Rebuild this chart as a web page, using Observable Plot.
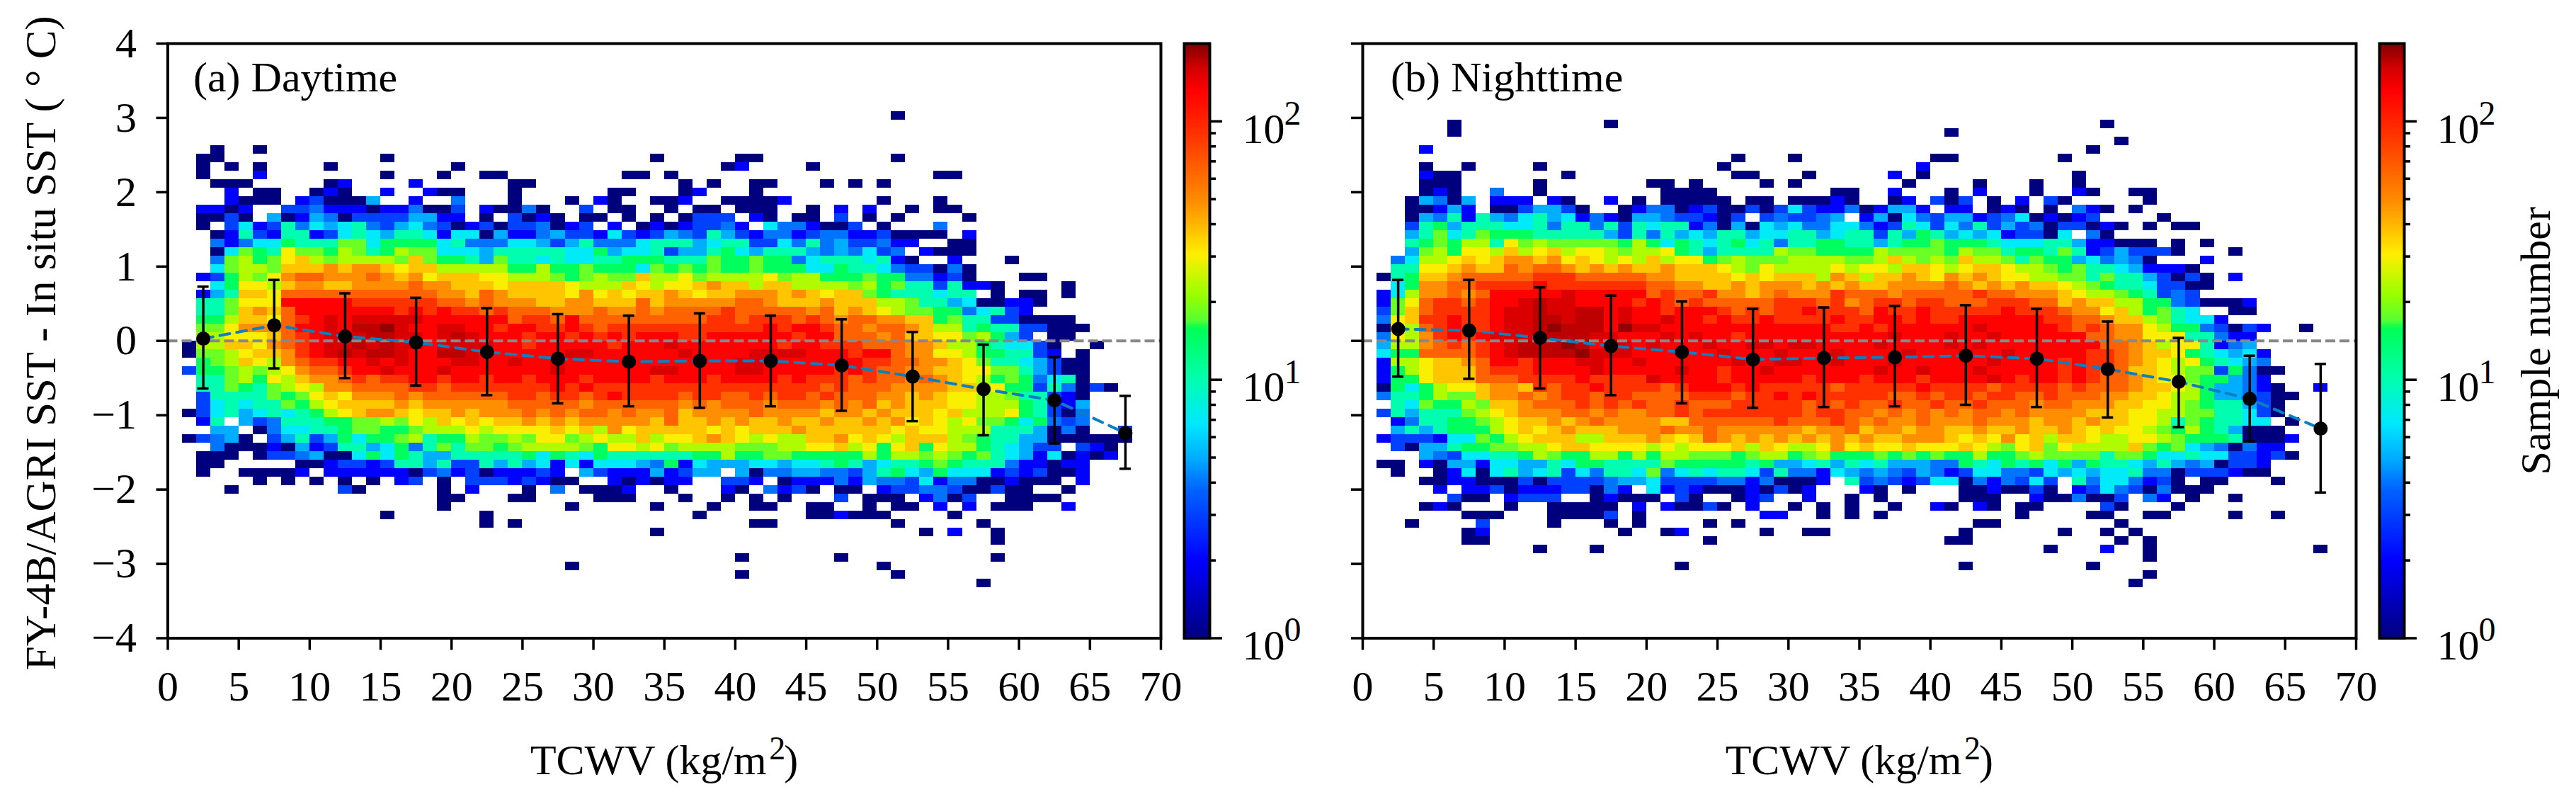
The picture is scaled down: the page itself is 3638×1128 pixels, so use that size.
<!DOCTYPE html>
<html>
<head>
<meta charset="utf-8">
<script src="https://cdn.jsdelivr.net/npm/d3@7"></script>
<script src="https://cdn.jsdelivr.net/npm/@observablehq/plot@0.6"></script>
<style>
html,body{margin:0;padding:0;background:#fff;}
#chart{position:relative;width:3638px;height:1128px;overflow:hidden;background:#fff;}
#chart svg{position:absolute;top:0;max-width:none;}
</style>
</head>
<body>
<div id="chart"></div>
<script>
// sample-count classes
const levelKeys = "abcdefghijklmnopqrs";
const levelCounts = [1,2,3,4,5,7,10,15,18,23,30,37,48,65,90,130,155,170,190];

// row (from the top, bins of 8/70 K) | column:classes (bins of 1 kg/m2)
const dayRows = [
"8|51:a",
"12|3:a 6:a",
"13|2:aa 15:a 34:a 40:aa 51:a",
"14|2:a 4:a 6:a 11:a 20:a 39:ab 45:a",
"15|2:a 6:b 15:a 19:a 22:aa 32:aa 35:a 54:aa",
"16|3:aaa 11:ab 17:b 24:aa 36:a 38:a 41:aa 46:a 48:a 50:a",
"17|4:b 6:aa 10:aba 15:b 18:baa 24:a 31:aa 36:ab 41:a",
"18|4:baaa 9:bcaaae 17:b 20:d 24:a 28:a 30:ba 34:aab 39:aaaab 50:a 54:a",
"19|2:bbab 8:ccdbbbabb 17:daa 20:c 22:baa 25:da 29:c 31:aa 35:a 37:aa 40:aaa 45:a 47:b 49:b 52:a 54:aa",
"20|2:aaca 7:eabedaccccee 19:bb 22:a 24:caba 29:aa 32:a 34:a 36:accc 41:ba 44:aa 47:c 49:a 51:a 56:a",
"21|2:a 4:cfbcg dfefg dcefd cabca ccdab c 31:b 33:ababccdb 42:fddbaac 50:a 54:d",
"22|3:abgcb ggbcf gfegg fbffa ebbde ccbfc bcedc gecbd dbcdd bbcaa aa 56:b",
"23|3:dbdff hgggi ifhhh hfgdd dffec egddd fggge fggcc fdgde ccdbb 55:aa",
"24|3:afihg kiihj ighji ifffe ggggg ffhef fgcee ghfeg ggede dfcd 53:baaa",
"25|3:dijhi kljij jjjil ihhge iggfg ffggh hhggg ihhih hdfgg gfgba 55:b 59:a",
"26|3:fijji lllml mmlkl ljjjj jhhjh hihhh fihih ihhih hhffh ggfdc cada",
"27|2:bchji kmnnm mmnml mklll kkjjj ihiji iljjk ijjjj kijjh hhihh ddbca 60:aa",
"28|3:fhkkj lmmll mmmmn mmlll kllll kjjjl kjkkl mlljl ljjjj ijhig gcgbb a 63:a",
"29|2:begll knnnn nnnnn nnmml nmlll lkmkl kllml kllmm mlmlk llihg ggfgg 58:a 60:aa 63:a",
"30|2:ggikk kpppp poooo oonnm nmmml lmmll lnlmm mmmnn mlllm llljj iggef aabba",
"31|2:ggilm lnppp ppppo popoo nonnn mmmnm mnmnn nnonn nnnmn lmlkj iihhd fgcb",
"32|2:hhjll knopq pqqqq qpppp ppnoo npnnn nnnnn noono oonon mnnmm llhig gccaa aa",
"33|2:iikmm mnppq prrsq ppqqp popp o opono ooooo ooooo popp o nnmnn mljjg hggcc aaa",
"34|2:jjkkk lnopq qqrrq qpqrq pppop popop oppp o oppp p ppopp nnnmn llkki jhec 62:aa",
"35|1:ajjll kmnop qqrqr qqpqq qqppo ppppp oppp q ppppp ppopp ooonn nmmlj jhgff ca 65:a",
"36|1:aiijk llmop qrqrr qpprr qpppp ppqqp ppppp qpppp qqqqp ppopp nmmkk jhhgg cb 64:a",
"37|2:hijlk jmnoo ppqpq pppqq ppqpp qpppp ppppp ppp qq ppppp ppoon nmmlk iggfe caa",
"38|1:chhij ijkmn nopp q pppqp ppppp pqppp ppp qq ppppq qpppp popon nmmll kkiig ecaa",
"39|2:ggijh kjlmm nonoo ppopp oppop ppopp ppopp poppp popoo onon n mnmlk jhihd fga",
"40|2:ggihg ijkjm mnnnn oonoo ooooo popoo ooooo ooooo oooon onnnm mmmll jkhhc gdac 66:a",
"41|2:cgggg ihikl kmmmn mnnnn nnoon oonop oooon oonno noono nnnmm lmlkk jjigg cba",
"42|2:cfgfg gihjk llllm lmmmm mmnnn nnmnn nnnnm nmnnn mnnnm nmnlm lllkk jjjhg cbe",
"43|1:acfge fgfgh jklmm lkllm lmmmn mnmnn mnmmn lmmmm nmmmm lmmlm lllkl jjjkh gcad",
"44|2:bg 5:ecdgg ghhii jikjl klkll mlmlm mmmml nllml mllml lmllm lmklk jkiih fhdcd",
"45|3:ee 6:adffg ghiih hijjj kjkkk klklj mklll llklk lllml lllll klkkj jjggg eada 67:c",
"46|1:acdea 7:cegce hfhhi jghhj iijik kijkj jljkk lmlkj kjjll mklkj lllji hggee aaaaaa",
"47|3:daaab aebcg gefhd gigii hijjj jihkk jkijj jjiii jjkkl jkhkl hkjjh gfecc 64:cba",
"48|2:aaa 6:accde aafhf hgeeg ggggh fhgfh ggggg ghhjh hiihh hhhjh jjiji higfe bfaba b",
"49|2:aa 9:aabcc bcgge gccge gefbf bfffe dhbfe eeffe ffghg efggh ihggg dbbab b",
"50|2:a 5:aaaab 11:bbbbb bacdb cabbb cb 29:ecbbb ebcee 40:eadde eddce ghfeh fffbc bcaab",
"51|6:a 8:a 10:a 12:a 14:a 16:bc 19:a 21:cccbcbaa 31:bababb 39:ccb 43:abbbd beddc fbdda abaaa 64:b",
"52|4:a 12:ca 19:a 21:b 25:a 27:d 29:aaab 35:a 39:ba 42:dbca 47:aa 50:bccdd caaca a 63:a",
"53|19:aa 24:aa 30:aaa 36:a 39:a 41:a 43:a 47:c 49:aaa 53:bdac 59:aaaa",
"54|19:a 28:a 34:a 38:a 41:aa 45:aa 49:a 51:aa 54:b 56:b 58:aaa 63:b",
"55|15:a 22:a 37:a 45:aabaaa 55:a",
"56|22:a 24:a 41:aa 51:a 57:a",
"57|34:a 53:a 55:b 58:a",
"58|58:a",
"60|40:a 47:a 58:a",
"61|28:a 50:a",
"62|40:a 51:a",
"63|57:a"
];

const nightRows = [
"9|6:a 17:a 52:a",
"10|6:a 41:a",
"11|53:a",
"12|4:b 51:a",
"13|26:a 30:a 40:aa 49:a",
"14|4:a 7:a 12:a 25:a 39:b",
"15|4:baa 14:a 26:aa 31:a 37:b 39:a 50:a",
"16|4:aaa 12:a 20:aa 23:a 28:a 30:a 38:a 43:a 47:a 50:a",
"17|4:aba 9:d 12:a 21:aaaa 33:aa 37:b 41:a 43:b 47:a 50:ba 54:aa",
"18|3:aeda 7:e 9:bbb 13:ba 17:b 19:a 21:aaaaa 27:aa 30:aaaba 37:ab 40:cac 44:a 46:b 48:ca 55:a",
"19|3:aabeb 9:aacee ca 18:abdda bcaac acfcb bdabe eb 41:bb 44:aba 48:a 50:dba 54:a",
"20|3:aedgb gedfg efbdb aeedc cbac 28:cdccde 35:beafd ceebc dfaba bc 56:a",
"21|3:cgheg ggffg dggdg cgfgg bdaea fefdd ffdbc gfcfd gcecd accab a 55:a 57:aa",
"22|3:egifg ihhhg gggge cgdge fegge ffgge fggcg ehgef efbcc af 51:da",
"23|3:ghihj jgkij iiiii hjhfh gfghf gdggh hggeg hhihh hgfff ggebb aaa 57:a 59:a",
"24|3:eijhk kjljk ljkkj ijjkh gegg g gjiih hhhji iiihj iighh gigbc ec 55:cca 61:a",
"25|2:dfjjk lklmm lmklk jkjlj kkhij iiijj jjiij ljiji ljjig ihhef deda 59:b",
"26|2:ggkkl mllnm nnmlm lmllm lllkj ikjjj jkjkk jllkj kllkj jihig gfebb ba",
"27|1:aghll mnnnn nooon nnnnm mllll klkll ljmlj llmlk mlmlk kjjii gigge caca 61:b",
"28|2:fhmmn noooo poooo ooonn mmllm lmmml mlmll mmmmn mlmlm llkji hggfc caa",
"29|1:bfjmm nmnpp pppqp ppppn onnom mlmnm mmonn nmnnn nnonn mmmlk jjihg cdc",
"30|1:biknoo nopp qrqqp pppop onon n nnnoo onomn oonoo nnnoo onnlm lljjh hdcaa ab",
"31|1:cilno ooopq qrqqr rpqpp opppo nonoo pooon poopo oooop ooonm mkljh igf 61:aa",
"32|1:dkloo poopq qrrqr rpqpp qppop oopoo oopoo ppopo oppp p ppoon nmllj igffb",
"33|1:akjno poopq qrsrr rpsqq ppppp ppppp ppoop opppp ppqpp pppon onmmk jhhdc acb 66:a",
"34|1:dkjmo popqq qrrrr qqppp qpqpp opppp ppppp pqppp qppqp ppppp nnmmk kkggd bb",
"35|1:ejjmn onopq rrrsr pqqpq pppqp pqqpq qpppp qpppp qpqpp ppppp pnnml jkkgb de",
"36|1:fhhnn nnopq rrrrs qqqpp ppppq pppqp ppqpp ppqpp pqppq ppppp oonml lkhgf efb",
"37|1:bjjkl lmnpp oppp q qppqp ppppp qppqq ppqpp pqppp pppqp ppp op oonml kjkhg fed",
"38|1:bhjkl llnoo opppp qpppp pqppo ppqpp ppppp qppqp ppqpp pppop onnll kjiic hdaa",
"39|1:bhhkl llnnn oooop ooooq ppppo ppppp opppo pppop pppqp oppop onnml kkihh edb",
"40|1:ahfhj kklmm lonoo poooo n oppp opooo oonoo ooopo ooono ooono nnnml lkjhe edba 67:b",
"41|1:dggh j iilmm nmnoo noonn nnooo noopo poooo onnon oonoo nnonn nmmll kjjhe edcaa",
"42|2:gfihh jillm nnnon onon n onnno ooo on onon n onnon nonnn mnnmm mllkk jihgg eca",
"43|1:cgegg gijkl mmmnn mnmmn nonoo ooooo noonn mnmnm nmnnm nmmmm lllkk jjiig gfca",
"44|2:bdggh hijkl lmlmn mmmml lnnnn nnonn nonmn mmnmm mnmmm lmmlm llkkj gihgg ff 65:a",
"45|2:egegh hhjkl klmll lmmmn mmnmm mmmml mmnlm mlmml lmllm llmlk lkkji hjhge aaa",
"46|1:bcccb ffihj klllj jlllm lklnm lmlml mlmlm llmmm lklkm kljll kjjkk jihhh gaaab",
"47|2:caeeg hhiij jkllk kkkjk jkkkl jlkjj kmklk klkkk lkjik likjj jjlih ifeda dbb",
"48|4:edcff gghji hhjjh jhjji iihij jhijh hhihi hihhj hhiji iiigi ihffg ffccb ca",
"49|1:aa 4:baeeb ffeeg fhhgg ggihh hhhgh eefge g 35:fgeee ddhgf hghfh ehggf egede accb",
"50|2:a 5:abfaf gefgc fdggf idfgf ggfcg ddbfe 35:dedce dbcff ddcfe feffg ddacc cbaa",
"51|4:aabba aacac cccde efccc cddbd aaab 34:gcdcb cffad bdcfc 50:gdffd bca 59:aa 64:a",
"52|5:b 7:bbcab bbcca db 20:fbcba aabac ab 35:ba 38:a 42:aabaaca 50:bcfdc adaaa",
"53|6:caa 10:bccc 16:abaaa 22:ca 26:abc 31:b 34:a 36:a 42:aaa 47:baa 50:daa 53:c 55:db 58:a 61:a",
"54|4:aba 10:a 13:aaaaa 19:b 21:baaca 27:b 30:a 32:a 34:a 37:a 40:ba 43:ba 46:aa 52:ca 57:a",
"55|7:aaa 13:aaaac 19:a 28:bb 32:a 34:a 36:a 46:a 51:aa 55:aa 61:a 64:a",
"56|3:a 8:c 13:a 17:a 19:a 24:a 26:a 43:aa 53:a",
"57|7:ab 18:a 21:ab 28:a 31:aa 42:a 49:a 52:a 54:a",
"58|7:aa 24:a 41:aa 53:a 55:a",
"59|12:a 16:a 48:a 52:b 55:a 67:a",
"60|55:a",
"61|22:a 42:a 51:a",
"62|55:a",
"63|54:a"
];

// binned mean and mean +/- std, every 5 kg/m2
const tcwvCentres = [2.5,7.5,12.5,17.5,22.5,27.5,32.5,37.5,42.5,47.5,52.5,57.5,62.5,67.5];
const dayMean  = [0.03,0.21,0.06,-0.02,-0.15,-0.24,-0.28,-0.27,-0.27,-0.33,-0.48,-0.65,-0.80,-1.24];
const dayUpper = [0.73,0.82,0.64,0.58,0.44,0.36,0.34,0.37,0.34,0.29,0.12,-0.05,-0.22,-0.74];
const dayLower = [-0.64,-0.37,-0.50,-0.60,-0.73,-0.84,-0.88,-0.90,-0.88,-0.94,-1.08,-1.27,-1.38,-1.72];
const nightMean  = [0.16,0.14,0.04,-0.07,-0.15,-0.25,-0.23,-0.22,-0.20,-0.24,-0.38,-0.55,-0.78,-1.18];
const nightUpper = [0.82,0.82,0.72,0.61,0.53,0.43,0.45,0.47,0.48,0.43,0.26,0.04,-0.20,-0.31];
const nightLower = [-0.48,-0.51,-0.64,-0.73,-0.84,-0.90,-0.89,-0.88,-0.86,-0.89,-1.03,-1.16,-1.35,-2.04];

const xTicks = [0,5,10,15,20,25,30,35,40,45,50,55,60,65,70];
const yTicks = [-4,-3,-2,-1,0,1,2,3,4];
const barMajor = [1,10,100];
const barMinor = [2,3,4,5,6,7,8,9,20,30,40,50,60,70,80,90];
const barExponents = ["0","1","2"];

const serif = "'Liberation Serif','Times New Roman',serif";
const jetStops = [0,.13,.25,.30,.36,.44,.52,.535,.575,.645,.73,.85,.92,.96,1];
const jetColors = ["#00007f","#0000ff","#0064ff","#00aaff","#00e8ff","#00ffaa","#00ff55","#5aff32","#96ff00","#ffee00","#ff9000","#ff3000","#ff0000","#d00000","#800000"];
const jetScale = d3.scaleLinear().domain(jetStops).range(jetColors).interpolate(d3.interpolateRgb).clamp(true);
const jet = t => jetScale(t);
const colorScale = {type:"log", domain:[1,200], interpolate:jet};
const svgStyle = {fontFamily:serif, background:"transparent", overflow:"visible", color:"#000"};

function parseRows(rows){
  const cells = [];
  for (const row of rows){
    const [k, body] = row.split("|");
    let col = 0;
    for (const token of body.split(" ")){
      if (!token) continue;
      let letters = token;
      if (token.includes(":")){ const p = token.split(":"); col = +p[0]; letters = p[1]; }
      for (const ch of letters){
        const idx = levelKeys.indexOf(ch);
        if (idx >= 0) cells.push({x1:col, x2:col+1, y1:4-(+k)*8/70, y2:4-(+k+1)*8/70, n:levelCounts[idx]});
        col++;
      }
    }
  }
  return cells;
}

function panel({rows, mean, upper, lower, title, left, width, marginLeft, marginRight, labels, titleDx}){
  const stats = tcwvCentres.map((x,i)=>({x, m:mean[i], hi:upper[i], lo:lower[i]}));
  const svg = Plot.plot({
    width, height:1128, marginLeft, marginRight, marginTop:61, marginBottom:227.5,
    x:{domain:[0,70]}, y:{domain:[-4,4]}, color:colorScale, style:svgStyle,
    marks:[
      Plot.rect(parseRows(rows), {x1:"x1", x2:"x2", y1:"y1", y2:"y2", fill:"n", shapeRendering:"crispEdges"}),
      Plot.ruleY([0], {stroke:"#888888", strokeWidth:4, strokeDasharray:"14,6"}),
      Plot.line(stats, {x:"x", y:"m", stroke:"#0b7fbf", strokeWidth:4, strokeDasharray:"14,10"}),
      Plot.ruleX(stats, {x:"x", y1:"lo", y2:"hi", stroke:"#000", strokeWidth:3.5}),
      Plot.ruleY(stats, {y:"hi", x1:d=>d.x-.4, x2:d=>d.x+.4, stroke:"#000", strokeWidth:3.5}),
      Plot.ruleY(stats, {y:"lo", x1:d=>d.x-.4, x2:d=>d.x+.4, stroke:"#000", strokeWidth:3.5}),
      Plot.dot(stats, {x:"x", y:"m", r:10, fill:"#000", stroke:"none"}),
      Plot.frame({stroke:"#000", strokeWidth:4}),
      Plot.axisX({ticks:xTicks, tickSize:17, tickPadding:28, fontSize:60, fontFamily:serif, label:null, strokeWidth:3.5, tickFormat:d=>String(d)}),
      Plot.axisY({ticks:yTicks, tickSize:16, tickPadding:28, fontSize:60, fontFamily:serif, label:null, strokeWidth:3.5, fill:labels?"currentColor":"none"}),
      Plot.text([title], {frameAnchor:"top-left", textAnchor:"start", lineAnchor:"middle", dx:titleDx, dy:48, fontSize:60, fontFamily:serif, fill:"#000"}),
      Plot.text(["TCWV (kg/m"], {frameAnchor:"bottom", textAnchor:"end", lineAnchor:"middle", dx:144.5, dy:172.3, fontSize:60, fontFamily:serif, fill:"#000"}),
      Plot.text(["2"], {frameAnchor:"bottom", textAnchor:"start", lineAnchor:"middle", dx:148, dy:156, fontSize:46, fontFamily:serif, fill:"#000"}),
      Plot.text([")"], {frameAnchor:"bottom", textAnchor:"start", lineAnchor:"middle", dx:169, dy:172.3, fontSize:60, fontFamily:serif, fill:"#000"}),
      labels ? Plot.text(["FY-4B/AGRI SST - In situ SST ( ° C)"], {frameAnchor:"left", rotate:-90, textAnchor:"middle", lineAnchor:"middle", dx:58-marginLeft, dy:3, fontSize:61, fontFamily:serif, fill:"#000"}) : null
    ]
  });
  svg.style.left = left + "px";
  return svg;
}

function colorbar({left, width, marginLeft, marginRight, title}){
  const steps = d3.range(300).map(i=>({lo:Math.pow(200,i/300), hi:Math.pow(200,(i+1)/300), v:Math.pow(200,(i+.5)/300)}));
  const svg = Plot.plot({
    width, height:1128, marginLeft, marginRight, marginTop:61, marginBottom:227.5,
    x:{domain:[0,1], axis:null}, y:{type:"log", domain:[1,200]}, color:colorScale, style:svgStyle,
    marks:[
      Plot.rect(steps, {x1:()=>0, x2:()=>1, y1:"lo", y2:"hi", fill:"v", shapeRendering:"crispEdges"}),
      Plot.frame({stroke:"#000", strokeWidth:4}),
      Plot.axisY({anchor:"right", ticks:barMajor, tickSize:17, label:null, strokeWidth:3.5, fill:"none"}),
      Plot.axisY({anchor:"right", ticks:barMinor, tickSize:8, label:null, strokeWidth:3.5, fill:"none"}),
      Plot.text(barMajor, {y:d=>d, text:()=>"10", frameAnchor:"right", textAnchor:"start", lineAnchor:"middle", dx:46, dy:11, fontSize:60, fontFamily:serif, fill:"#000"}),
      Plot.text(barMajor, {y:d=>d, text:(d,i)=>barExponents[i], frameAnchor:"right", textAnchor:"start", lineAnchor:"middle", dx:105, dy:-11, fontSize:48, fontFamily:serif, fill:"#000"}),
      title ? Plot.text([title], {frameAnchor:"right", rotate:-90, textAnchor:"middle", lineAnchor:"middle", dx:3581-3395, fontSize:60, fontFamily:serif, fill:"#000"}) : null
    ]
  });
  svg.style.left = left + "px";
  return svg;
}

const chart = document.getElementById("chart");
chart.append(
  panel({rows:dayRows, mean:dayMean, upper:dayUpper, lower:dayLower, title:"(a) Daytime", left:0, width:1700, marginLeft:236.5, marginRight:61, labels:true, titleDx:36}),
  colorbar({left:1650, width:200, marginLeft:22, marginRight:142}),
  panel({rows:nightRows, mean:nightMean, upper:nightUpper, lower:nightLower, title:"(b) Nighttime", left:1850, width:1540, marginLeft:74, marginRight:63, labels:false, titleDx:39.5}),
  colorbar({left:3340, width:298, marginLeft:20, marginRight:243, title:"Sample number"})
);
</script>
</body>
</html>
